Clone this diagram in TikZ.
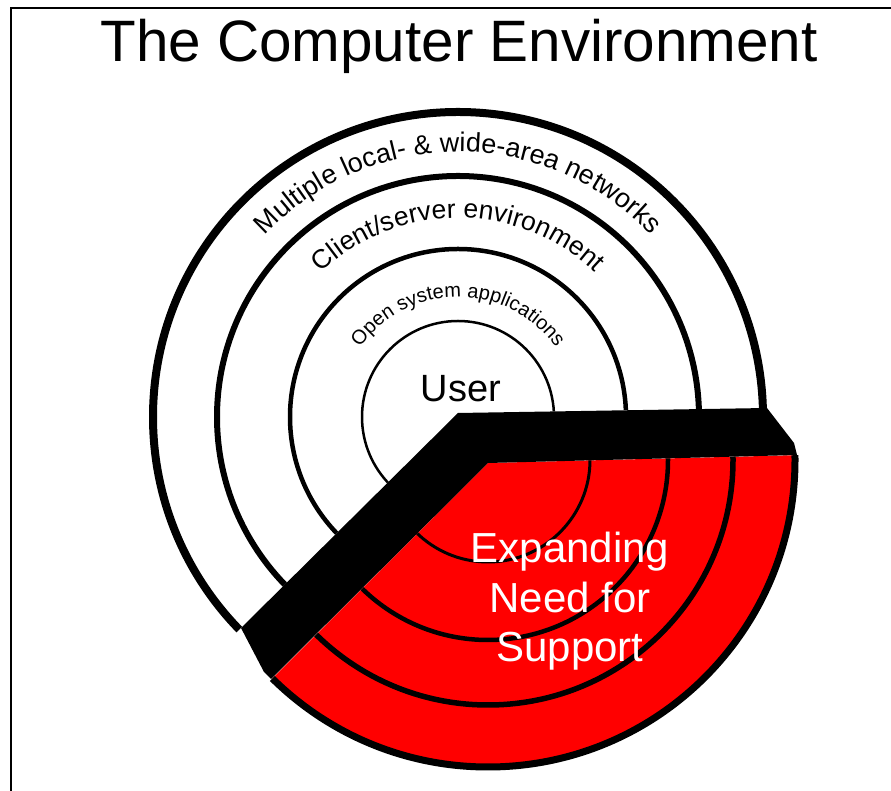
\documentclass[tikz,border=0pt]{standalone}
\usepackage{fontspec}
\setmainfont{Liberation Sans}
\usetikzlibrary{decorations.text}
\begin{document}
\begin{tikzpicture}[x=1pt,y=1pt,
  frameline/.style={draw=black,line width=2.5pt},
  ring/.style={draw=black},
  bandfill/.style={fill=black},
  sectorfill/.style={fill=red},
  curvedtext/.style={decorate,decoration={text along path,text align=center,text={#1}}}
]
\useasboundingbox (0,0) rectangle (891,791);
\coordinate (cw) at (458,374);
\coordinate (cr) at (488,331);
\coordinate (wa) at (458,378);
\coordinate (wr) at (767,383);
\coordinate (re1) at (794,348);
\coordinate (rr) at (797,336);
\coordinate (ra) at (488,328);
\coordinate (rl) at (271,112);
\coordinate (bl) at (264,119);
\coordinate (wl) at (241,163);
\coordinate (ftop) at (891,783);
\coordinate (fcorner) at (11,783);
\coordinate (fbot) at (11,0);

% frame
\draw[frameline] (fbot) -- (fcorner) -- (ftop);

% white rings
\begin{scope}
\clip (wa) -- (1000,387) -- (1000,1000) -- (-500,1000) -- (-500,-571) -- cycle;
\draw[ring,line width=2.5pt] (cw) circle[radius=96];
\draw[ring,line width=4.5pt] (cw) circle[radius=168];
\draw[ring,line width=6pt] (cw) circle[radius=241];
\draw[ring,line width=8pt] (cw) circle[radius=305];
\end{scope}

% red sector
\begin{scope}
\clip (ra) -- (1000,341) -- (1000,-300) -- (-140,-300) -- cycle;
\fill[sectorfill] (cr) circle[radius=307];
\draw[ring,line width=3pt] (cr) circle[radius=102];
\draw[ring,line width=4.5pt] (cr) circle[radius=180];
\draw[ring,line width=5.5pt] (cr) circle[radius=245];
\draw[ring,line width=7pt] (cr) circle[radius=307];
\end{scope}

% black band
\fill[bandfill] (wa) -- (wr) -- (re1) -- (rr) -- (ra) -- (rl) -- (bl) -- (wl) -- cycle;

% curved labels
\path[curvedtext={|\fontsize{27}{32}\selectfont|Multiple local- {\&} wide-area networks}]
  (cw) ++(180:265) arc[start angle=180,end angle=0,radius=265];
\path[curvedtext={|\fontsize{26.5}{32}\selectfont|Client/server environment}]
  (cw) ++(180:199) arc[start angle=180,end angle=0,radius=199];
\path[curvedtext={|\fontsize{20}{24}\selectfont|Open system applications}]
  (cw) ++(180:120) arc[start angle=180,end angle=0,radius=120];

% texts
\node[font=\fontsize{58.4}{70}\selectfont,anchor=base,inner sep=0pt] (title) at (459,729) {The Computer Environment};
\node[font=\fontsize{38}{46}\selectfont,anchor=base,inner sep=0pt] (user) at (461,389) {User};
\node[font=\fontsize{42}{50}\selectfont,anchor=base,inner sep=0pt,text=white] (e1) at (570,228) {Expanding};
\node[font=\fontsize{42}{50}\selectfont,anchor=base,inner sep=0pt,text=white] (e2) at (570,178) {Need for};
\node[font=\fontsize{42}{50}\selectfont,anchor=base,inner sep=0pt,text=white] (e3) at (570,129) {Support};
\end{tikzpicture}
\end{document}
